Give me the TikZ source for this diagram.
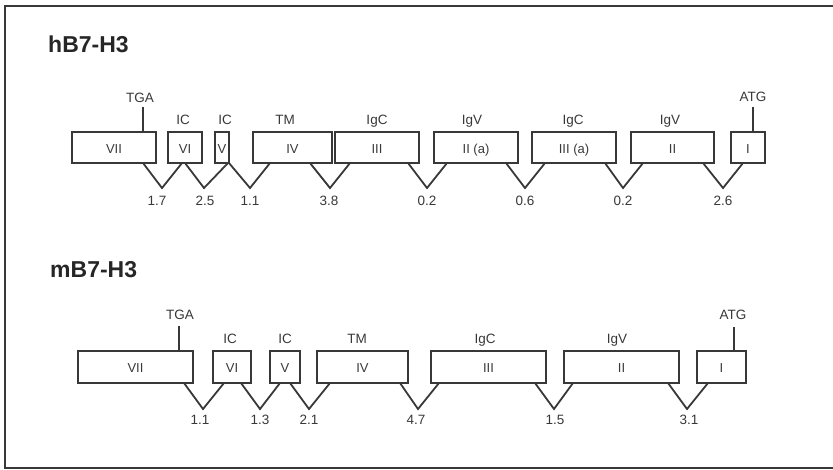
\documentclass[tikz,border=0pt]{standalone}
\usepackage{fontspec}
\setmainfont{Liberation Sans}
\definecolor{ink}{HTML}{383838}
\definecolor{txt}{HTML}{383838}
\definecolor{head}{HTML}{262626}
\begin{document}
\begin{tikzpicture}[x=1pt,y=-1pt,
  exon/.style={draw=ink, line width=1.8pt, rectangle, inner sep=0pt, outer sep=0pt,
    text height=11pt, text depth=0pt, text=txt,
    font=\fontsize{13}{14}\selectfont},
  lbl/.style={anchor=base, inner sep=0pt, text=txt,
    font=\fontsize{13.5}{14}\selectfont},
  ttl/.style={anchor=base west, inner sep=0pt, text=head,
    font=\fontsize{23}{24}\selectfont\bfseries},
  link/.style={draw=ink, line width=1.8pt, line join=miter},
  frame/.style={draw=ink, line width=2pt}]
\useasboundingbox (0,0) rectangle (833,469);

% open frame: top, left and bottom edges
\draw[frame] (833,5.5) -- (5,5.5) -- (5,468) -- (833,468);

% ---------------- human gene ----------------
\node[ttl] (th) at (48,52) {hB7-H3};

\begin{scope}[every node/.append style={minimum height=31pt}]
\node[exon, minimum width=84pt] (hVII) at (114,147.5) {VII};
\node[exon, minimum width=34pt] (hVI)  at (185,147.5) {VI};
\node[exon, minimum width=14pt] (hV)   at (222,147.5) {V};
\node[exon, minimum width=79pt] (hIV)  at (292.5,147.5) {IV};
\node[exon, minimum width=84pt] (hIII) at (377,147.5) {III};
\node[exon, minimum width=84pt] (hIIa) at (476,147.5) {II (a)};
\node[exon, minimum width=84pt] (hIIIa) at (574,147.5) {III (a)};
\node[exon, minimum width=83pt] (hII)  at (672.5,147.5) {II};
\node[exon, minimum width=34pt] (hI)   at (748,147.5) {I};
\end{scope}

% domain labels
\node[lbl] (hd1) at (183,124) {IC};
\node[lbl] (hd2) at (225,124) {IC};
\node[lbl] (hd3) at (285,124) {TM};
\node[lbl] (hd4) at (377,124) {IgC};
\node[lbl] (hd5) at (472,124) {IgV};
\node[lbl] (hd6) at (573,124) {IgC};
\node[lbl] (hd7) at (670,124) {IgV};

% stop and start codons
\node[lbl] (hstop) at (140,102) {TGA};
\coordinate (hstopT) at (143,107);
\draw[link] (hstopT) -- ([xshift=71pt]hVII.north west);
\node[lbl] (hstart) at (753,101) {ATG};
\coordinate (hstartT) at (753,107);
\draw[link] (hstartT) -- ([xshift=22pt]hI.north west);

% introns with sizes (kb)
\foreach \k/\L/\la/\R/\rb/\vx/\tx/\t in {
  1/hVII/71/hVI/14/162/157/1.7,
  2/hVI/17/hV/13/204/205/2.5,
  3/hV/14/hIV/17/250/250/1.1,
  4/hIV/57/hIII/15/330/329/3.8,
  5/hIII/73/hIIa/13/427/427/0.2,
  6/hIIa/72/hIIIa/13/525/525/0.6,
  7/hIIIa/73/hII/12/623/623/0.2,
  8/hII/72/hI/12/723/723/2.6}{
  \coordinate (hv\k) at (\vx,188);
  \draw[link] ([xshift=\la pt]\L.south west) -- (hv\k) -- ([xshift=\rb pt]\R.south west);
  \node[lbl] (hn\k) at (\tx,205) {\t};
}

% ---------------- mouse gene ----------------
\node[ttl] (tm) at (50,277) {mB7-H3};

\begin{scope}[every node/.append style={minimum height=32pt}]
\node[exon, minimum width=115pt] (mVII) at (135.5,367) {VII};
\node[exon, minimum width=38pt]  (mVI)  at (232,367) {VI};
\node[exon, minimum width=30pt]  (mV)   at (285,367) {V};
\node[exon, minimum width=91pt]  (mIV)  at (362.5,367) {IV};
\node[exon, minimum width=115pt] (mIII) at (488.5,367) {III};
\node[exon, minimum width=115pt] (mII)  at (621.5,367) {II};
\node[exon, minimum width=49pt]  (mI)   at (721.5,367) {I};
\end{scope}

\node[lbl] (md1) at (230,343) {IC};
\node[lbl] (md2) at (285,343) {IC};
\node[lbl] (md3) at (357,343) {TM};
\node[lbl] (md4) at (485,343) {IgC};
\node[lbl] (md5) at (617,343) {IgV};

\node[lbl] (mstop) at (180,319) {TGA};
\coordinate (mstopT) at (179,326);
\draw[link] (mstopT) -- ([xshift=101pt]mVII.north west);
\node[lbl] (mstart) at (733,319) {ATG};
\coordinate (mstartT) at (734,327);
\draw[link] (mstartT) -- ([xshift=37pt]mI.north west);

\foreach \k/\L/\la/\R/\rb/\vx/\tx/\t in {
  1/mVII/106/mVI/11/203/200/1.1,
  2/mVI/28/mV/10/260/260/1.3,
  3/mV/20/mIV/13/309/309/2.1,
  4/mIV/83/mIII/8/418/416/4.7,
  5/mIII/104/mII/9/554/555/1.5,
  6/mII/104/mI/11/687/689/3.1}{
  \coordinate (mv\k) at (\vx,409);
  \draw[link] ([xshift=\la pt]\L.south west) -- (mv\k) -- ([xshift=\rb pt]\R.south west);
  \node[lbl] (mn\k) at (\tx,424) {\t};
}
\end{tikzpicture}
\end{document}
